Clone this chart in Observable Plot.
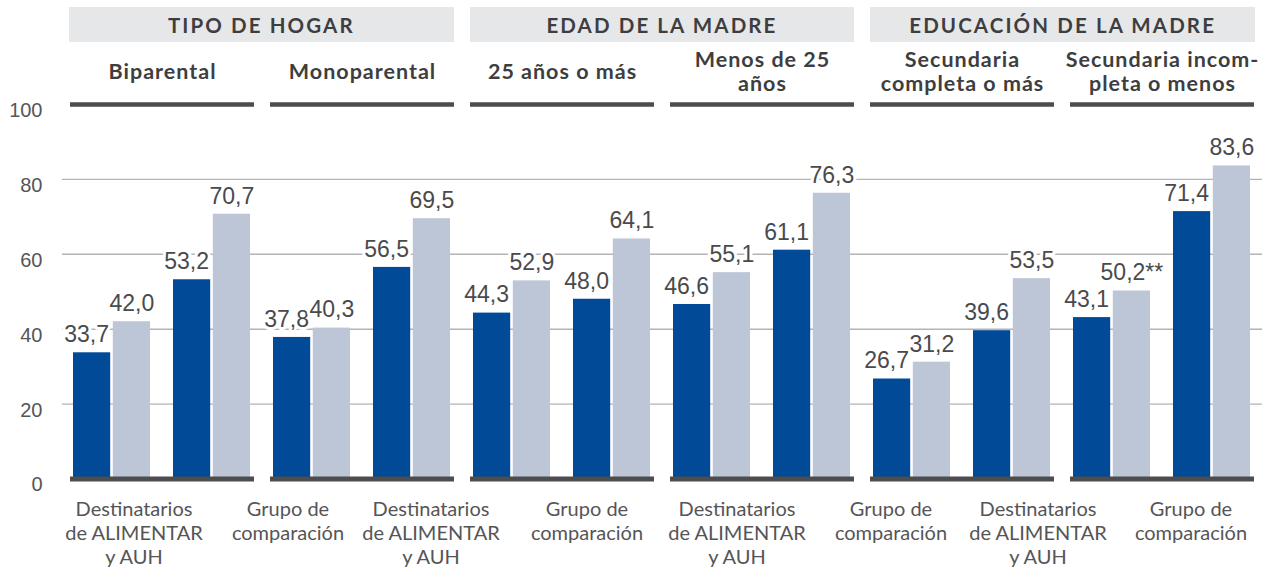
<!DOCTYPE html>
<html>
<head>
<meta charset="utf-8">
<script src="https://cdn.jsdelivr.net/npm/d3@7"></script>
<script src="https://cdn.jsdelivr.net/npm/@observablehq/plot@0.6"></script>
<style>
  html, body { margin: 0; padding: 0; background: #fff; }
  #wrap { position: relative; width: 1269px; height: 570px; overflow: hidden; }
  #wrap svg { position: absolute; left: 0; top: 0; display: block; }
  .section {
    position: absolute; top: 7px; height: 35px; background: #e6e7e9;
    font-family: Lato, "Open Sans", sans-serif; font-weight: 700; font-size: 20.5px;
    letter-spacing: 2.1px; color: #3e3e40; display: flex; align-items: center; justify-content: center;
  }
  .bottom {
    position: absolute; top: 496px; width: 170px; margin-left: -85px; text-align: center;
    font-family: Lato, "Open Sans", sans-serif; font-weight: 400; font-size: 20px;
    line-height: 24px; color: #555557; white-space: pre;
  }
</style>
</head>
<body>
<div id="wrap"></div>
<script>
// ---- data ----
const sections = ["TIPO DE HOGAR", "EDAD DE LA MADRE", "EDUCACIÓN DE LA MADRE"];
const panels = ["Biparental", "Monoparental", "25 años o más", "Menos de 25 años",
                "Secundaria completa o más", "Secundaria incompleta o menos"];
const panelLabels = ["Biparental", "Monoparental", "25 años o más", "Menos de 25\naños",
                     "Secundaria\ncompleta o más", "Secundaria incom-\npleta o menos"];
const groups = ["Destinatarios de ALIMENTAR y AUH", "Grupo de comparación"];
// per panel: [group A, group B]
const darkValues = [[33.7, 53.2], [37.8, 56.5], [44.3, 48.0], [46.6, 61.1], [26.7, 39.6], [43.1, 71.4]];
const lightValues = [[42.0, 70.7], [40.3, 69.5], [52.9, 64.1], [55.1, 76.3], [31.2, 53.5], [50.2, 83.6]];
const lightNotes = [["", ""], ["", ""], ["", ""], ["", ""], ["", ""], ["**", ""]];
const yTicks = [0, 20, 40, 60, 80, 100];
const gridTicks = [20, 40, 60, 80];
const bottomLabels = ["Destinatarios\nde ALIMENTAR\ny AUH", "Grupo de\ncomparación",
                      "Destinatarios\nde ALIMENTAR\ny AUH", "Grupo de\ncomparación",
                      "Destinatarios\nde ALIMENTAR\ny AUH", "Grupo de\ncomparación",
                      "Destinatarios\nde ALIMENTAR\ny AUH", "Grupo de\ncomparación"];

// ---- table built from arrays ----
const rows = [];
panels.forEach((p, i) => groups.forEach((g, j) => rows.push({
  panel: p, group: g, dark: darkValues[i][j], light: lightValues[i][j], note: lightNotes[i][j]
})));
const fmt = v => v.toFixed(1).replace(".", ",");

// ---- layout ----
const W = 1269, H = 570;
const mL = 69, mR = 14, mT = 104, mB = 91.5;
const pairPadInner = 0.229, pairPadOuter = 0.03;
const darkCol = "#004a98", lightCol = "#bdc6d7", ink = "#4a4a4c";
const numFont = "'Liberation Sans', Arial, sans-serif";

const facetStep = (W - mL - mR) / (panels.length - 0.08);
const facetW = facetStep * 0.92;
const pairStep = facetW / (2 - pairPadInner + 2 * pairPadOuter);
const pairBW = pairStep * (1 - pairPadInner);
const half = pairBW / 2 + 1;

const chart = Plot.plot({
  width: W, height: H,
  marginLeft: mL, marginRight: mR, marginTop: mT, marginBottom: mB,
  style: {background: "transparent", overflow: "visible"},
  fx: {domain: panels, paddingInner: 0.08, paddingOuter: 0, axis: null, label: null},
  x: {domain: groups, paddingInner: pairPadInner, paddingOuter: pairPadOuter, axis: null, label: null},
  y: {domain: [0, 100], axis: null, label: null},
  marks: [
    Plot.ruleY(gridTicks, {stroke: "#b4b4b4", strokeWidth: 1.4, insetLeft: -8, insetRight: -8}),
    Plot.barY(rows, {fx: "panel", x: "group", y: "dark", fill: darkCol, insetRight: half}),
    Plot.barY(rows, {fx: "panel", x: "group", y: "light", fill: lightCol, insetLeft: half}),
    Plot.ruleY([0], {stroke: "#4d4d4f", strokeWidth: 5}),
    Plot.ruleY([100], {stroke: "#4d4d4f", strokeWidth: 4.5}),
    Plot.text(rows, {fx: "panel", x: "group", y: "dark", text: d => fmt(d.dark),
      textAnchor: "end", dx: -3, dy: -18, lineAnchor: "middle",
      fontSize: 23, fontFamily: numFont, fill: ink, stroke: "white", strokeWidth: 6}),
    Plot.text(rows, {fx: "panel", x: "group", y: "light", text: d => fmt(d.light) + d.note,
      textAnchor: "middle", dx: pairBW / 4 + 0.5, dy: -18, lineAnchor: "middle",
      fontSize: 23, fontFamily: numFont, fill: ink, stroke: "white", strokeWidth: 6}),
    Plot.text(panels, {fx: d => d, text: (d, i) => panelLabels[i], frameAnchor: "top",
      dy: -33, lineAnchor: "middle", lineHeight: 1.12, fontSize: 21.5, fontWeight: 700,
      fontFamily: "Lato, 'Open Sans', sans-serif", fill: "#3e3e40",
      style: {letterSpacing: "1px"}}),
    Plot.axisY({ticks: yTicks, tickSize: 0, tickPadding: 28, dy: 6, fontSize: 20,
      fontFamily: numFont, color: "#555557", label: null})
  ]
});
const wrap = document.getElementById("wrap");
wrap.appendChild(chart);
// header letter spacing (applied to the panel-title text group)
chart.querySelectorAll("text").forEach(t => {
  if (t.getAttribute("font-weight") === "700" || (t.parentNode && t.parentNode.getAttribute && t.parentNode.getAttribute("font-weight") === "700")) {
    t.style.letterSpacing = "1px";
  }
});

// section headers (span two panels each)
sections.forEach((s, k) => {
  const x0 = mL + (2 * k) * facetStep;
  const x1 = mL + (2 * k + 1) * facetStep + facetW;
  const d = document.createElement("div");
  d.className = "section";
  d.style.left = x0 + "px";
  d.style.width = (x1 - x0) + "px";
  d.textContent = s;
  wrap.appendChild(d);
});

// bottom labels (as placed in the original)
const bottomX = [134, 288, 431, 587, 737, 891, 1038, 1191];
bottomLabels.forEach((t, i) => {
  const d = document.createElement("div");
  d.className = "bottom";
  d.style.left = bottomX[i] + "px";
  d.textContent = t;
  wrap.appendChild(d);
});
</script>
</body>
</html>
